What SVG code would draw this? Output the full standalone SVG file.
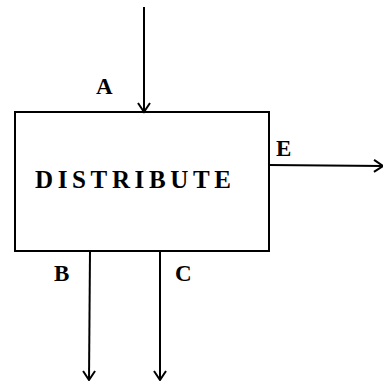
<svg xmlns="http://www.w3.org/2000/svg" width="383" height="381" viewBox="0 0 383 381">
<defs>
<style>
.ln{stroke:#000;stroke-width:2;fill:none}
.lb{font-family:"Liberation Serif",serif;font-weight:bold;font-size:23px;fill:#000}
.tt{font-family:"Liberation Serif",serif;font-weight:bold;font-size:25px;fill:#000}
</style>
<marker id="ah" markerWidth="14" markerHeight="14" refX="10" refY="7" orient="auto" markerUnits="userSpaceOnUse">
<path d="M1,1 L10,7 L1,13" fill="none" stroke="#000" stroke-width="2"/>
</marker>
</defs>
<rect width="383" height="381" fill="#fff"/>
<g id="distribute">
<rect class="ln" x="15" y="112" width="254" height="139"/>
<text class="tt" x="35" y="188" textLength="196" lengthAdjust="spacing">DISTRIBUTE</text>
</g>
<g id="connectors">
<line class="ln" x1="144" y1="7" x2="144" y2="112" marker-end="url(#ah)"/>
<line class="ln" x1="269" y1="165" x2="383" y2="166" marker-end="url(#ah)"/>
<line class="ln" x1="90" y1="251" x2="89" y2="380" marker-end="url(#ah)"/>
<line class="ln" x1="160" y1="251" x2="160" y2="380" marker-end="url(#ah)"/>
</g>
<g id="labels">
<text class="lb" x="96" y="94">A</text>
<text class="lb" x="276" y="156">E</text>
<text class="lb" x="54" y="281">B</text>
<text class="lb" x="175" y="281">C</text>
</g>
</svg>
